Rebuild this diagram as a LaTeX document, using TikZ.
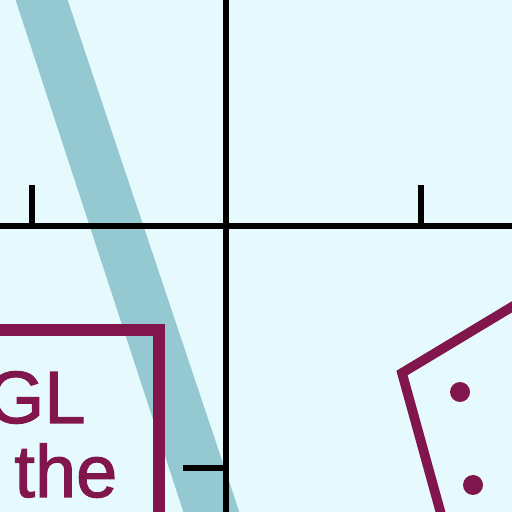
\documentclass[tikz,border=0pt]{standalone}
\usepackage{fontspec}
\setmainfont{Liberation Sans}
\newfontfamily\labelfont{Liberation Sans}[BoldFont={Liberation Sans},BoldFeatures={FakeBold=1.6}]
\usetikzlibrary{positioning}
\definecolor{paper}{RGB}{230,250,253}
\definecolor{band}{RGB}{149,201,210}
\definecolor{plum}{RGB}{128,22,76}
\tikzset{
  axisline/.style={line width=2.9pt,black},
  plumline/.style={line width=4.8pt,plum,line join=miter},
  label/.style={anchor=base west,inner sep=0pt,text=plum,font=\labelfont\bfseries\fontsize{37}{40}\selectfont},
}

\begin{document}
\begin{tikzpicture}[x=0.5pt,y=0.5pt]
  \useasboundingbox (0,0) rectangle (512,512);
  \clip (0,0) rectangle (512,512);
  \fill[paper] (0,0) rectangle (512,512);
  % slanted band
  \fill[band] (13,520) -- (65,520) -- (242,-8) -- (186,-8) -- cycle;
  % axes and ticks
  \coordinate (o) at (226,286);
  \draw[axisline] (-10,286) -- (o) -- (530,286);
  \draw[axisline] (226,530) -- (o) -- (226,-20);
  \draw[axisline] (32,286) -- (32,327);
  \draw[axisline] (421,286) -- (421,327);
  \draw[axisline] (183,44) -- (226,44);
  % framed text, left
  \draw[plumline,line width=5.6pt] (-10,182) -- (159,182) -- (159,-20);
  \node[label] (gl) at (-13.6,89) {GL};
  \node[label] (the) at (14,15) {the};
  % outline with dots, right
  \draw[plumline] (530,216) -- (402,139) -- (446,-20);
  \fill[plum] (460,120) circle[radius=10];
  \fill[plum] (473,27) circle[radius=10];
\end{tikzpicture}
\end{document}
